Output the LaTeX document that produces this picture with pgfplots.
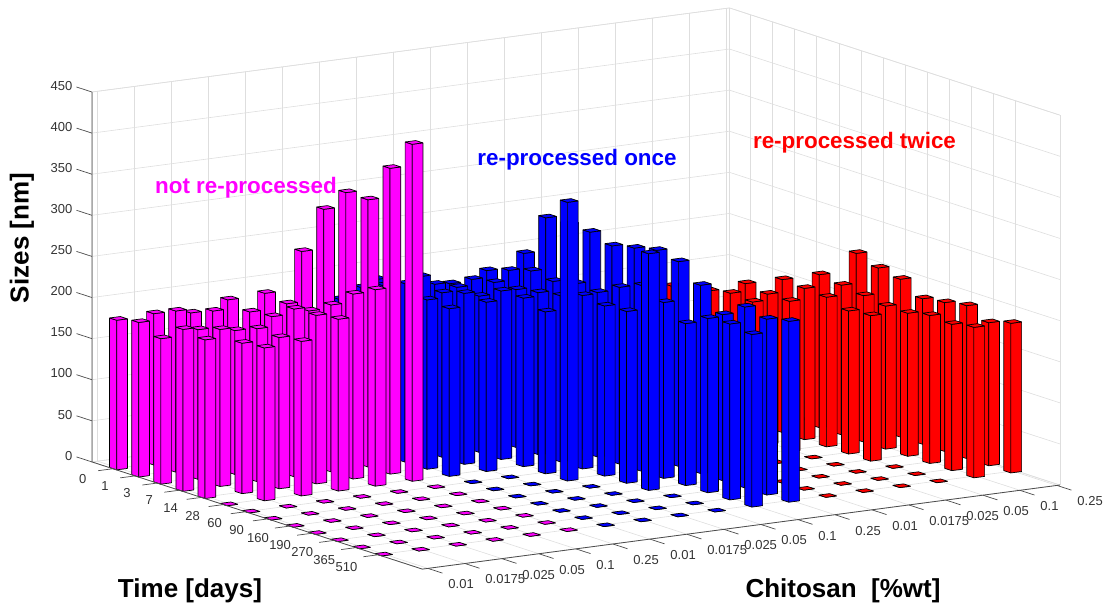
\documentclass[border=0pt]{standalone}
\usepackage{fontspec}
\setmainfont{Liberation Sans}
\usepackage{pgfplots}
\usepackage{pgfplotstable}
\pgfplotsset{compat=1.18}
\definecolor{ticktext}{gray}{0.2}
\definecolor{gridc}{gray}{0.87}
\definecolor{axisc}{gray}{0.3}
\definecolor{mag}{RGB}{255,0,255}
\definecolor{blu}{RGB}{0,0,255}
\definecolor{rd}{RGB}{255,0,0}

% rows: Chitosan position c (0..17), columns: time index 0..12; 0 = flat marker on the floor
\pgfplotstableread{
c  t0  t1  t2  t3  t4  t5  t6  t7  t8  t9  t10 t11 t12
17 0   0   0   0   0   206 197 192 177 181 186 174 182
16 0   0   0   0   0   186 182 178 174 174 180 178 183
15 0   0   0   0   0   186 184 182 174 177 0   0   0
14 0   0   0   0   0   187 183 183 0   0   0   0   0
13 0   0   0   0   0   184 190 188 0   0   0   0   0
12 0   0   0   0   0   196 0   0   0   0   0   0   0
}\redT
\pgfplotstableread{
c  t0  t1  t2  t3  t4  t5  t6  t7  t8  t9  t10 t11 t12
11 198 250 251 250 242 248 254 249 229 202 220 214 220
10 183 192 200 196 202 200 215 226 214 197 212 214 210
9  173 187 192 192 197 202 211 207 209 288 0   0   0
8  178 187 192 190 205 205 197 339 0   0   0   0   0
7  190 173 211 200 208 206 0   0   0   0   0   0   0
6  172 195 206 217 206 204 0   0   0   0   0   0   0
}\blueT
\pgfplotstableread{
c  t0  t1  t2  t3  t4  t5  t6  t7  t8  t9  t10 t11 t12
5  236 296 325 325 372 410 0   0   0   0   0   0   0
4  191 187 187 203 225 239 0   0   0   0   0   0   0
3  189 183 186 204 205 209 0   0   0   0   0   0   0
2  179 190 175 186 184 188 0   0   0   0   0   0   0
1  184 196 182 191 183 186 0   0   0   0   0   0   0
0  182 188 177 197 193 0   0   0   0   0   0   0   0
}\pinkT

\def\halft{0.16}
\def\halfc{0.145}
\newcommand\addbar[3]{%
  \pgfmathsetmacro\xa{#1-\halft}\pgfmathsetmacro\xb{#1+\halft}%
  \pgfmathsetmacro\ya{#2-\halfc}\pgfmathsetmacro\yb{#2+\halfc}%
  \xdef\barlist{\barlist (\xa,\ya,0)(\xb,\ya,0)(\xb,\ya,#3)(\xa,\ya,#3)
    (\xb,\ya,0)(\xb,\yb,0)(\xb,\yb,#3)(\xb,\ya,#3)
    (\xa,\ya,#3)(\xb,\ya,#3)(\xb,\yb,#3)(\xa,\yb,#3) }}
\newcommand\buildlist[2]{%
  \gdef\barlist{}%
  \foreach \r in {0,...,5}{%
    \pgfplotstablegetelem{\r}{c}\of{#1}\edef\cc{\pgfplotsretval}%
    \foreach \t in {0,...,12}{%
      \edef\tmp{\noexpand\pgfplotstablegetelem{\r}{t\t}\noexpand\of{\noexpand#1}}\tmp
      \edef\zz{\pgfplotsretval}%
      \addbar{\t}{\cc}{\zz}%
    }%
  }%
  \global\let#2\barlist}

\pgfplotsset{
  barsty/.style={patch,patch type=rectangle,shader=faceted,faceted color=black,
    z buffer=none,line width=0.7pt,point meta=0,point meta min=0,point meta max=1,forget plot},
}
\begin{document}
\buildlist{\redT}{\redlist}%
\buildlist{\blueT}{\bluelist}%
\buildlist{\pinkT}{\pinklist}%
\begin{tikzpicture}[x=1pt,y=1pt]
\useasboundingbox (0,0) rectangle (1103,-612);
\begin{axis}[
  at={(118.5pt,-468pt)},anchor=origin,
  x={(22.1pt,-7.17pt)},y={(37pt,4.88pt)},z={(0pt,0.822pt)},
  xmin=-0.95,xmax=14,ymin=-0.15,ymax=17.08,zmin=0,zmax=450,
  xtick={0,...,12},ytick={0,...,17},ztick={0,50,...,450},
  xticklabels={0,1,3,7,14,28,60,90,160,190,270,365,510},
  yticklabels={0.01,0.0175,0.025,0.05,0.1,0.25,0.01,0.0175,0.025,0.05,0.1,0.25,0.01,0.0175,0.025,0.05,0.1,0.25},
  /pgf/number format/assume math mode=true,
  grid=major,grid style={gridc,line width=0.6pt},
  tick label style={font=\fontsize{13}{15}\selectfont,text=ticktext},
  xticklabel style={xshift=-23pt,yshift=-2pt},
  yticklabel style={anchor=west,xshift=17pt,yshift=-16pt},
  zticklabel style={xshift=-16pt,yshift=5pt},
  axis line style={gridc,line width=0.6pt},
  major tick length=0pt,
  clip=false,
]
\edef\plotcmd{\noexpand\addplot3[barsty,colormap={rr}{color=(rd) color=(rd)}] coordinates {\redlist};}\plotcmd
\edef\plotcmd{\noexpand\addplot3[barsty,colormap={bb}{color=(blu) color=(blu)}] coordinates {\bluelist};}\plotcmd
\edef\plotcmd{\noexpand\addplot3[barsty,colormap={mm}{color=(mag) color=(mag)}] coordinates {\pinklist};}\plotcmd
% dark axis lines and ticks
\draw[axisc,line width=0.8pt] (axis cs:-0.95,-0.15,450) -- (axis cs:-0.95,-0.15,0) -- (axis cs:14,-0.15,0) -- (axis cs:14,17.08,0);
\pgfplotsinvokeforeach{0,...,12}{\draw[axisc,line width=0.7pt] (axis cs:#1,-0.15,0) -- (axis cs:#1,-0.55,0);}
\pgfplotsinvokeforeach{0,...,17}{\draw[axisc,line width=0.7pt] (axis cs:14,#1,0) -- (axis cs:14.66,#1,0);}
\pgfplotsinvokeforeach{0,50,...,450}{\draw[axisc,line width=0.7pt] (axis cs:-0.95,-0.15,#1) -- (axis cs:-1.65,-0.15,#1);}
\end{axis}
\node[font=\bfseries\fontsize{22.4}{24}\selectfont,text=mag] at (246,-188) {not re-processed};
\node[font=\bfseries\fontsize{22.4}{24}\selectfont,text=blu] at (577,-160) {re-processed once};
\node[font=\bfseries\fontsize{22.4}{24}\selectfont,text=rd] at (854.5,-143) {re-processed twice};
\node[font=\bfseries\fontsize{26}{28}\selectfont,rotate=90] at (22,-238) {Sizes [nm]};
\node[font=\bfseries\fontsize{26}{28}\selectfont] at (190,-591) {Time [days]};
\node[font=\bfseries\fontsize{26}{28}\selectfont] at (843,-591) {Chitosan~ [\%wt]};
\end{tikzpicture}
\end{document}
